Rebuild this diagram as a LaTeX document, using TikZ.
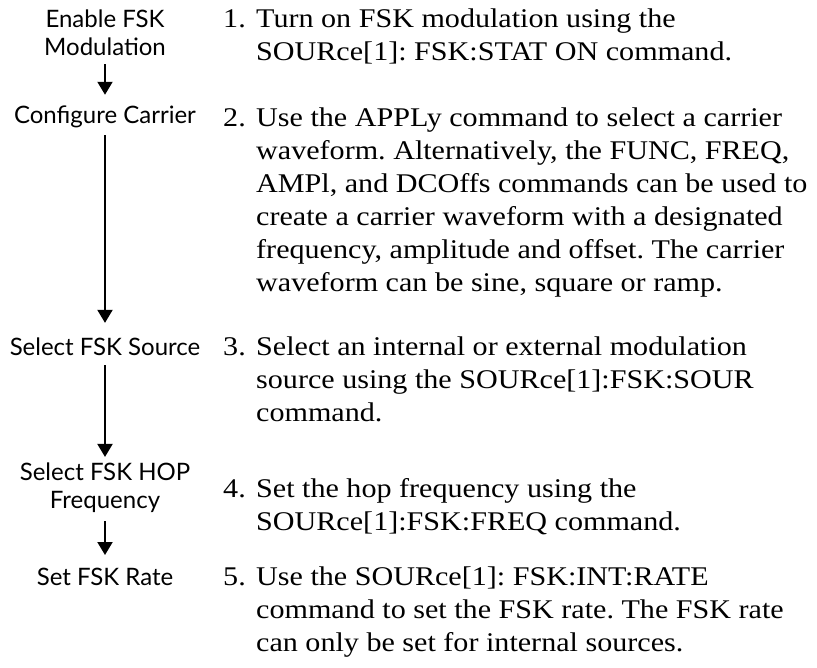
\documentclass[tikz,border=0pt]{standalone}
\usepackage{fontspec}
\newfontfamily\flowfont{Lato}
\newfontfamily\stepfont[FakeStretch=1.115]{Liberation Serif}
\usetikzlibrary{arrows.meta, positioning}
\frenchspacing

\begin{document}
\begin{tikzpicture}[x=1pt, y=-1pt,
    flowlabel/.style={font=\flowfont\fontsize{24}{28}\selectfont, align=center, inner sep=0pt},
    flowarrow/.style={line width=2pt, -{Triangle[width=15pt, length=13pt]}},
    stepnum/.style={font=\stepfont\fontsize{27}{33}\selectfont, anchor=base west, inner sep=0pt},
    steptext/.style={font=\stepfont\fontsize{27}{33}\selectfont, anchor=base west, align=left, inner sep=0pt}]

    % page frame
    \useasboundingbox (0,0) rectangle (817,667);

    % flow labels (left column)
    \node[flowlabel] (enable) at (105,33) {Enable FSK\\Modulation};
    \node[flowlabel] (carrier) at (105,117) {Configure Carrier};
    \node[flowlabel] (source) at (105,347) {Select FSK Source};
    \node[flowlabel] (hop) at (105,488) {Select FSK HOP\\Frequency};
    \node[flowlabel] (rate) at (105,577) {Set FSK Rate};

    % flow arrows
    \draw[flowarrow, shorten <=8pt, shorten >=11pt] (enable) -- (carrier);
    \draw[flowarrow, shorten <=7pt, shorten >=15pt] (carrier) -- (source);
    \draw[flowarrow, shorten <=9pt, shorten >=6pt] (source) -- (hop);
    \draw[flowarrow, shorten <=8pt, shorten >=13pt] (hop) -- (rate);

    % step descriptions (right column), text nodes sit on their last line
    \node[stepnum] (n1) at (223,27) {1.};
    \node[steptext] (t1) at (256,60) {Turn on FSK modulation using the\\SOURce[1]: FSK:STAT ON command.};

    \node[stepnum] (n2) at (223,126) {2.};
    \node[steptext] (t2) at (256,291) {Use the APPLy command to select a carrier\\waveform. Alternatively, the FUNC, FREQ,\\AMPl, and DCOffs commands can be used to\\create a carrier waveform with a designated\\frequency, amplitude and offset. The carrier\\waveform can be sine, square or ramp.};

    \node[stepnum] (n3) at (223,355) {3.};
    \node[steptext] (t3) at (256,421) {Select an internal or external modulation\\source using the SOURce[1]:FSK:SOUR\\command.};

    \node[stepnum] (n4) at (223,497) {4.};
    \node[steptext] (t4) at (256,530) {Set the hop frequency using the\\SOURce[1]:FSK:FREQ command.};

    \node[stepnum] (n5) at (223,585) {5.};
    \node[steptext] (t5) at (256,651) {Use the SOURce[1]: FSK:INT:RATE\\command to set the FSK rate. The FSK rate\\can only be set for internal sources.};

\end{tikzpicture}
\end{document}
